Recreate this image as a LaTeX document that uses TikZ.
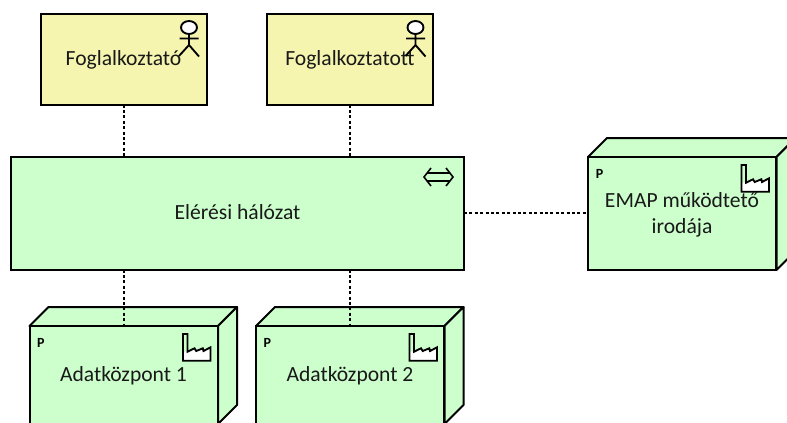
\documentclass[tikz,border=0pt]{standalone}
\usepackage{fontspec}
\setmainfont{Carlito}
\definecolor{actorfill}{HTML}{F5F5B0}
\definecolor{techfill}{HTML}{CCFFCC}
\tikzset{
  x=0.75pt,y=-0.75pt,
  boxbase/.style={draw=black,line width=1.5pt,line join=miter,inner sep=0pt,outer sep=0pt,align=center,anchor=north west,font=\fontsize{16.2pt}{19.5pt}\selectfont,text=black!90},
  oneline/.style={text height=13.6pt,text depth=3.6pt},
  actorbox/.style={boxbase,oneline,fill=actorfill,minimum width=124.5pt,minimum height=68.25pt},
  netbox/.style={boxbase,oneline,fill=techfill,minimum width=339.75pt,minimum height=84.75pt},
  officebox/.style={boxbase,fill=techfill,minimum width=141pt,minimum height=84.75pt},
  dcbox/.style={boxbase,oneline,fill=techfill,minimum width=141pt,minimum height=73.5pt},
  sideface/.style={draw=black,line width=1.5pt,line join=round,fill=techfill},
  link/.style={draw=black,line width=1.5pt,dash pattern=on 2.25pt off 1.8pt},
  icon/.style={draw=black,line width=1.4pt,line join=miter},
  pmark/.style={font=\bfseries\fontsize{10.5pt}{12pt}\selectfont,text=black,inner sep=0pt,outer sep=0pt},
  actoricon/.pic={
    \draw[icon,fill=white] (-17.5,14) ellipse [x radius=8,y radius=6.5];
    \draw[icon] (-17.5,20.5) -- (-17.5,31.5) (-27,25) -- (-8,25)
      (-27.5,42.5) -- (-17.5,31.5) -- (-7.5,43);
  },
  factoryicon/.pic={
    \fill[white] (-30,25.7) -- (-23,22.3) -- (-21.3,25) -- (-14.7,22.3) -- (-14,25) -- (-7,21.3) -- (-7,34.7) -- (-34.5,34.7) -- (-34.5,25.7) -- cycle;
    \draw[icon] (-34.5,8) -- (-30,8) -- (-30,25.7) -- (-23,22.3) -- (-21.3,25) -- (-14.7,22.3) -- (-14,25) -- (-7,21.3) -- (-7,34.7) -- (-34.5,34.7) -- cycle;
  },
  accessicon/.pic={
    \draw[icon,line width=1.2pt] (-33,11.5) -- (-40,20.5) -- (-33,29.5) (-36.9,16.5) -- (-14.1,16.5)
      (-18,11.5) -- (-11,20.5) -- (-18,29.5) (-36.9,24.5) -- (-14.1,24.5);
  },
  pics/nodeframe/.style={code={
    \draw[sideface] (0,0) -- (19,-19) -- (207.5,-19) -- (188.5,0) -- cycle;
    \draw[sideface] (188.5,0) -- (207.5,-19) -- (207.5,{#1-19}) -- (188.5,#1) -- cycle;
  }},
}
\begin{document}
\begin{tikzpicture}
\useasboundingbox (0,0) rectangle (787,422);
\path (29.5,326) pic {nodeframe=98} (256,326) pic {nodeframe=98} (588,157) pic {nodeframe=113};
\node[actorbox] (emp) at (40.5,13.5) {Foglalkoztató};
\node[actorbox] (wrk) at (267,13.5) {Foglalkoztatott};
\node[netbox] (net) at (11,156.5) {Elérési hálózat};
\node[dcbox] (dc1) at (29.5,326) {Adatközpont 1};
\node[dcbox] (dc2) at (256,326) {Adatközpont 2};
\node[officebox] (off) at (588,157) {\rule{0pt}{13.5pt}EMAP működtető\\irodája};
\path (emp.north east) pic {actoricon} (wrk.north east) pic {actoricon};
\path (net.north east) pic {accessicon};
\path (dc1.north east) pic {factoryicon} (dc2.north east) pic {factoryicon} (off.north east) pic {factoryicon};
\node[pmark] (p1) at ([xshift=8.6pt,yshift=-12.5pt]dc1.north west) {P};
\node[pmark] (p2) at ([xshift=8.6pt,yshift=-12.5pt]dc2.north west) {P};
\node[pmark] (p3) at ([xshift=8.6pt,yshift=-12.5pt]off.north west) {P};
\draw[link] (emp.south) -- (net.north -| emp.south);
\draw[link] (wrk.south) -- (net.north -| wrk.south);
\draw[link] (net.east) -- (off.west |- net.east);
\draw[link] (net.south -| dc1.north) -- (dc1.north);
\draw[link] (net.south -| dc2.north) -- (dc2.north);
\end{tikzpicture}
\end{document}
